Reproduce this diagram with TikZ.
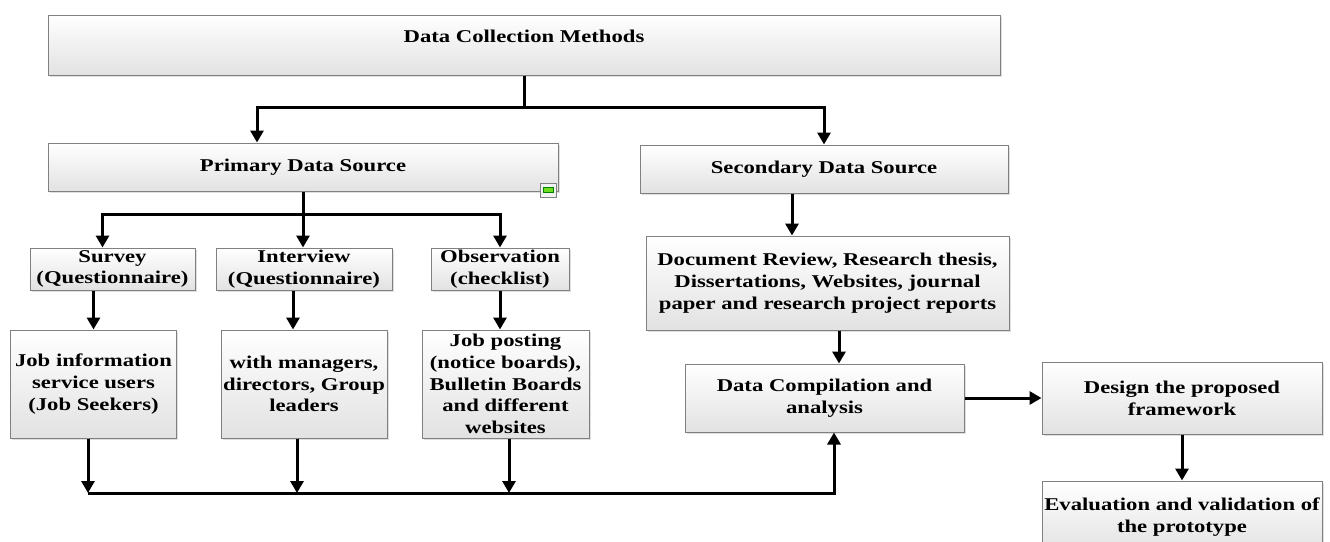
\documentclass[tikz,border=0pt]{standalone}
\usepackage{fontspec}
\setmainfont{Liberation Serif}[FakeStretch=1.26]
\usepackage{xcolor}
\usepackage{tikz}
\usetikzlibrary{arrows.meta,shadows,positioning,calc}
\definecolor{boxline}{RGB}{128,128,128}
\definecolor{boxshade}{RGB}{226,226,226}
\definecolor{iconpad}{RGB}{110,220,30}

\begin{document}
\begin{tikzpicture}[
    x=1pt, y=-1pt,
    box/.style={rectangle, draw=boxline, line width=1pt, top color=white, bottom color=boxshade, drop shadow={shadow xshift=1.5pt, shadow yshift=-1.5pt, fill=black!25}, inner sep=0pt, align=center, font=\bfseries\fontsize{18}{21.7}\selectfont},
    arrow/.style={-{Triangle[width=13pt,length=12pt]}, line width=3pt},
    link/.style={line width=3pt}
]
\useasboundingbox (0,0) rectangle (1330,541);

% Top level
\node[box, minimum width=952pt, minimum height=60pt, text depth=18pt] (methods) at (524,45) {Data Collection Methods};
\node[box, minimum width=510pt, minimum height=48pt] (primary) at (303,167) {Primary Data Source};
\node[box, minimum width=368pt, minimum height=48pt] (secondary) at (824,169) {Secondary Data Source};

% Primary methods
\node[box, minimum width=165pt, minimum height=42pt] (survey) at (112.5,269) {Survey\\(Questionnaire)};
\node[box, minimum width=176pt, minimum height=42pt] (interview) at (304,269) {Interview\\(Questionnaire)};
\node[box, minimum width=138pt, minimum height=42pt] (observation) at (500,269) {Observation\\(checklist)};

% Respondents and sources
\node[box, minimum width=166pt, minimum height=108pt] (seekers) at (93.5,384) {Job information\\service users\\(Job Seekers)};
\node[box, minimum width=166pt, minimum height=108pt] (managers) at (304,384) {with managers,\\directors, Group\\leaders};
\node[box, minimum width=167pt, minimum height=108pt] (posting) at (505.5,384) {Job posting\\(notice boards),\\Bulletin Boards\\and different\\websites};
\node[box, minimum width=363pt, minimum height=94pt] (review) at (827.5,283) {Document Review, Research thesis,\\Dissertations, Websites, journal\\paper and research project reports};

% Analysis and design
\node[box, minimum width=279pt, minimum height=68pt] (compile) at (824.5,398) {Data Compilation and\\analysis};
\node[box, minimum width=280pt, minimum height=72pt] (design) at (1182,398) {Design the proposed\\framework};
\node[box, minimum width=280pt, minimum height=72pt] (evaluate) at (1182,517) {Evaluation and validation of\\the prototype};

% Collapse handle on the primary box
\draw[boxline, fill=gray!10] (540,183) rectangle (556,197);
\fill[iconpad, draw=green!50!black] (543,187.5) rectangle (553,192.5);

% Branch points
\coordinate (split) at (524,107);
\coordinate (psplit) at (303,214);
\coordinate (merge) at (834,493);

% Arrows
\draw[link] (methods.south) -- (split);
\draw[arrow] (split) -| ([xshift=-46pt]primary.north);
\draw[arrow] (split) -| (secondary.north);

\draw[link] (primary.south) -- (psplit);
\draw[arrow] (psplit) -| ([xshift=-10pt]survey.north);
\draw[arrow] (psplit) -- (psplit |- interview.north);
\draw[arrow] (psplit) -| (observation.north);

\draw[arrow] (seekers.north |- survey.south) -- (seekers.north);
\draw[arrow] ([xshift=-11pt]interview.south) -- ([xshift=-11pt]managers.north);
\draw[arrow] (observation.south) -- (observation.south |- posting.north);

% Merge into compilation
\draw[arrow] ([xshift=-5.5pt]seekers.south) -- ([xshift=-5.5pt]seekers.south |- merge);
\draw[arrow] ([xshift=-7pt]managers.south) -- ([xshift=-7pt]managers.south |- merge);
\draw[arrow] ([xshift=3.5pt]posting.south) -- ([xshift=3.5pt]posting.south |- merge);
\draw[arrow] ([xshift=-5.5pt]seekers.south |- merge) -- (merge) -- ([xshift=9.5pt]compile.south);

\draw[arrow] ([xshift=-32pt]secondary.south) -- ([xshift=-32pt]secondary.south |- review.north);
\draw[arrow] ([xshift=11.5pt]review.south) -- ([xshift=11.5pt]review.south |- compile.north);
\draw[arrow] (compile.east) -- (design.west);
\draw[arrow] (design.south) -- (evaluate.north);

\end{tikzpicture}
\end{document}
